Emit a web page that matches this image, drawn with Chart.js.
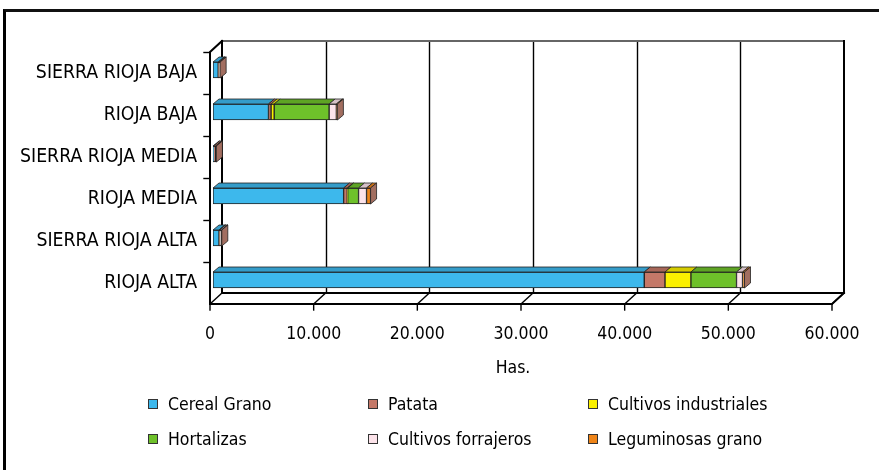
<!DOCTYPE html>
<html>
<head>
<meta charset="utf-8">
<script src="https://cdn.jsdelivr.net/npm/chart.js@4.4.0/dist/chart.umd.min.js"></script>
<style>
  html,body{margin:0;padding:0;background:#fff;overflow:hidden}
  #wrap{position:relative;width:879px;height:470px;overflow:hidden}
  #frame{position:absolute;left:3px;top:9px;width:1000px;height:1000px;border-left:3px solid #000;border-top:3px solid #111;box-sizing:border-box}
  #c{position:absolute;left:0;top:0}
  .txt{position:absolute;font-family:'Liberation Sans Narrow','Arial Narrow','DejaVu Sans Condensed',sans-serif;font-size:17.5px;color:#000;line-height:20px;white-space:nowrap}
  .lg .box{position:absolute;width:10px;height:10px;border:1px solid #333;box-sizing:border-box}
</style>
</head>
<body>
<div id="wrap">
  <div id="frame"></div>
  <canvas id="c" width="879" height="470"></canvas>
  <div class="txt" id="xtitle" style="left:513px;top:357px;transform:translateX(-50%)">Has.</div>
  <div id="legend"></div>
</div>
<script>
// datos (Has.)
const categories   = ['RIOJA ALTA','SIERRA RIOJA ALTA','RIOJA MEDIA','SIERRA RIOJA MEDIA','RIOJA BAJA','SIERRA RIOJA BAJA'];
const cereal       = [41600, 580, 12600,  60, 5350, 500];
const patata       = [ 2000,  60,   350, 200,  250,  60];
const industriales = [ 2500, null,   40, null, 300, null];
const hortalizas   = [ 4400,  30,  1050,  20, 5300,  20];
const forrajeros   = [  580, 160,   770,  40,  700, 100];
const leguminosas  = [  190,  20,   390,  10,  100,  10];
const xTicks       = [0, 10000, 20000, 30000, 40000, 50000, 60000];

const seriesNames  = ['Cereal Grano','Patata','Cultivos industriales','Hortalizas','Cultivos forrajeros','Leguminosas grano'];
const seriesData   = [cereal, patata, industriales, hortalizas, forrajeros, leguminosas];
const seriesColors = ['#3DB8EC','#C47868','#FAF000','#6EC12A','#FCE3EA','#EE8418'];

const FONT = "'Liberation Sans Narrow','Arial Narrow','DejaVu Sans Condensed',sans-serif";
Chart.defaults.font.family = FONT;
Chart.defaults.color = '#000';

function shade(hex, f){
  const n = parseInt(hex.slice(1),16);
  const r = Math.round(((n>>16)&255)*f), g = Math.round(((n>>8)&255)*f), b = Math.round((n&255)*f);
  return `rgb(${r},${g},${b})`;
}
const fmt = (v)=>String(v).replace(/\B(?=(\d{3})+(?!\d))/g,'.');

// caja 3D (paredes, suelo, rejilla)
const BOX = {dx:12, dy:11, shift:3};
const BAR = {dx:6, dy:5};

const box3d = {
  id:'box3d',
  beforeDatasetsDraw(chart){
    const {ctx, chartArea:a, scales:{x}} = chart;
    const fx = (v)=>x.getPixelForValue(v) - BOX.shift;
    const top = a.top + BOX.shift, bot = a.bottom + BOX.shift;
    const L = fx(0), R = fx(60000);
    const bx = (px)=>px + BOX.dx, by = (py)=>py - BOX.dy;
    ctx.save();
    ctx.strokeStyle = '#000';
    ctx.lineCap = 'square';
    // rejilla pared trasera
    ctx.lineWidth = 1.4;
    xTicks.slice(1,-1).forEach(v=>{
      const px = Math.round(bx(fx(v)))+0.5;
      ctx.beginPath(); ctx.moveTo(px, by(top)); ctx.lineTo(px, by(bot)); ctx.stroke();
    });
    // borde superior pared (gris)
    ctx.strokeStyle = '#666'; ctx.lineWidth = 2;
    ctx.beginPath(); ctx.moveTo(bx(L), by(top)); ctx.lineTo(bx(R), by(top)); ctx.stroke();
    ctx.strokeStyle = '#000';
    // bordes pared trasera y suelo
    ctx.lineWidth = 2;
    ctx.beginPath();
    ctx.moveTo(bx(L), by(top)); ctx.lineTo(bx(L), by(bot)); ctx.lineTo(bx(R), by(bot)); ctx.lineTo(bx(R), by(top));
    ctx.stroke();
    ctx.beginPath(); ctx.moveTo(L, bot); ctx.lineTo(R, bot); ctx.lineTo(bx(R), by(bot)); ctx.stroke();
    // diagonales del suelo y marcas
    ctx.lineWidth = 1.4;
    xTicks.forEach(v=>{
      const px = fx(v);
      ctx.beginPath(); ctx.moveTo(px, bot); ctx.lineTo(bx(px), by(bot)); ctx.stroke();
      ctx.beginPath(); ctx.moveTo(px, bot); ctx.lineTo(px, bot+6); ctx.stroke();
    });
    // eje de categorías (pared izquierda)
    ctx.lineWidth = 2;
    ctx.beginPath(); ctx.moveTo(bx(L), by(top)); ctx.lineTo(L, top); ctx.lineTo(L, bot); ctx.stroke();
    ctx.lineWidth = 1.4;
    const step = (bot-top)/categories.length;
    for(let i=0;i<categories.length;i++){
      const py = Math.round(top + i*step)+0.5;
      ctx.beginPath(); ctx.moveTo(L-6, py); ctx.lineTo(L, py); ctx.stroke();
    }
    ctx.restore();
  },
  afterDatasetsDraw(chart){
    const {ctx} = chart;
    const metas = chart.data.datasets.map((d,i)=>chart.getDatasetMeta(i));
    ctx.save();
    ctx.lineWidth = 0.8;
    ctx.strokeStyle = '#222';
    categories.forEach((c,ci)=>{
      let last = null;
      metas.forEach((m,di)=>{
        const el = m.data[ci];
        const v = seriesData[di][ci];
        if(!el || v==null || v===0) return;
        const {x, y, base, height} = el.getProps(['x','y','base','height'], true);
        const t = y - height/2;
        ctx.fillStyle = shade(seriesColors[di], 0.85);
        ctx.beginPath();
        ctx.moveTo(base, t); ctx.lineTo(x, t); ctx.lineTo(x+BAR.dx, t-BAR.dy); ctx.lineTo(base+BAR.dx, t-BAR.dy); ctx.closePath();
        ctx.fill(); ctx.stroke();
        last = {x, y, height, di};
      });
      if(last){
        const t = last.y - last.height/2, b = last.y + last.height/2;
        ctx.fillStyle = '#A26E60';
        ctx.beginPath();
        ctx.moveTo(last.x, t); ctx.lineTo(last.x+BAR.dx, t-BAR.dy); ctx.lineTo(last.x+BAR.dx, b-BAR.dy); ctx.lineTo(last.x, b); ctx.closePath();
        ctx.fill(); ctx.stroke();
      }
    });
    ctx.restore();
  }
};

new Chart(document.getElementById('c'), {
  type:'bar',
  data:{
    labels: categories,
    datasets: seriesNames.map((n,i)=>({
      label: n,
      data: seriesData[i],
      backgroundColor: seriesColors[i],
      borderColor: '#222',
      borderWidth: 1,
      borderSkipped: false,
      barThickness: 16
    }))
  },
  options:{
    indexAxis:'y',
    responsive:false,
    animation:false,
    layout:{ padding:{ top:49, right:44, left:0, bottom:0 } },
    plugins:{ legend:{display:false}, tooltip:{enabled:false} },
    scales:{
      x:{
        stacked:true, min:0, max:60000,
        afterBuildTicks(s){ s.ticks = xTicks.map(v=>({value:v})); },
        afterFit(s){ s.height = 169; s.paddingLeft = 0; s.paddingRight = 0; },
        grid:{display:false, drawTicks:false}, border:{display:false},
        ticks:{ font:{size:17.5}, padding:23, labelOffset:-3, maxRotation:0, autoSkip:false, callback:(v)=>fmt(v) }
      },
      y:{
        stacked:true, reverse:true,
        afterFit(s){ s.width = 213; s.paddingTop = 0; s.paddingBottom = 0; },
        grid:{display:false, drawTicks:false}, border:{display:false},
        ticks:{ font:{size:19.3}, padding:16, labelOffset:3 }
      }
    }
  },
  plugins:[box3d]
});

// leyenda (3 columnas x 2 filas)
const lg = document.getElementById('legend');
const colX = [148, 368, 588], rowY = [404, 439];
seriesNames.forEach((n,i)=>{
  const cx = colX[i%3], cy = rowY[Math.floor(i/3)];
  const d = document.createElement('div');
  d.className = 'lg';
  d.innerHTML = `<span class="box" style="left:${cx}px;top:${cy-5}px;background:${seriesColors[i]}"></span>`+
                `<span class="txt" style="left:${cx+20}px;top:${cy-10}px">${n}</span>`;
  lg.appendChild(d);
});
</script>
</body>
</html>
